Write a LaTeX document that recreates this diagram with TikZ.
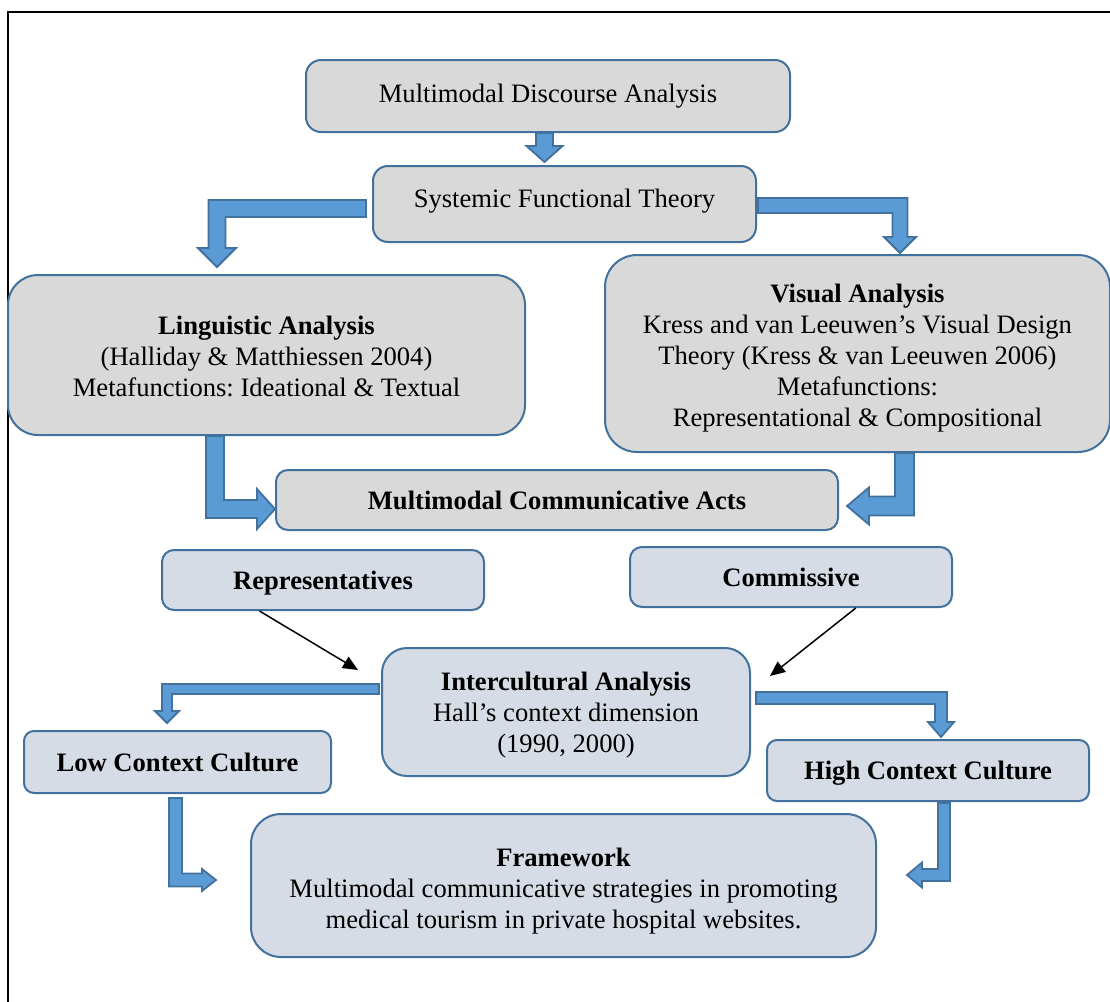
\documentclass[tikz,border=0pt]{standalone}
\usepackage{fontspec}
\setmainfont{Liberation Serif}
\usetikzlibrary{calc,arrows.meta}
\definecolor{bordc}{HTML}{41719C}
\definecolor{grayf}{HTML}{D9D9D9}
\definecolor{bluef}{HTML}{D6DCE5}
\definecolor{arrf}{HTML}{5B9BD5}
\newcommand\dfont{\fontsize{13.3}{15.5}\selectfont\frenchspacing}
\newcommand\topstrut[1]{\rule{0pt}{#1}}
\tikzset{
  gbox/.style={draw=bordc, fill=grayf, line width=1pt, rounded corners=#1, inner sep=0pt, align=center, font=\dfont},
  gbox/.default=7pt,
  bbox/.style={draw=bordc, fill=bluef, line width=1pt, rounded corners=#1, inner sep=0pt, align=center, font=\dfont},
  bbox/.default=6pt,
  blk/.style={draw=bordc, fill=arrf, line width=0.9pt, line join=miter},
  thinarr/.style={-{Triangle[length=7.5pt,width=6.5pt]}, line width=0.75pt, black},
  frameline/.style={line width=1pt, black}
}
% horizontal then vertical block arrow: #1 start, #2 tip, #3 half shaft, #4 half head, #5 head length (px)
\newcommand{\arrHV}[5]{%
  \path[blk] let \p1=(#1), \p2=(#2), \n1={sign(\x1-\x2)}, \n2={sign(\y2-\y1)} in
  (\x1,{\y1-(\n2)*#3*0.5pt})
  -- ({\x2-(\n1)*#3*0.5pt},{\y1-(\n2)*#3*0.5pt})
  -- ({\x2-(\n1)*#3*0.5pt},{\y2-(\n2)*#5*0.5pt})
  -- ({\x2-(\n1)*#4*0.5pt},{\y2-(\n2)*#5*0.5pt})
  -- (\x2,\y2)
  -- ({\x2+(\n1)*#4*0.5pt},{\y2-(\n2)*#5*0.5pt})
  -- ({\x2+(\n1)*#3*0.5pt},{\y2-(\n2)*#5*0.5pt})
  -- ({\x2+(\n1)*#3*0.5pt},{\y1+(\n2)*#3*0.5pt})
  -- (\x1,{\y1+(\n2)*#3*0.5pt}) -- cycle;}
% vertical then horizontal block arrow
\newcommand{\arrVH}[5]{%
  \path[blk] let \p1=(#1), \p2=(#2), \n1={sign(\x2-\x1)}, \n2={sign(\y2-\y1)} in
  ({\x1-(\n1)*#3*0.5pt},\y1)
  -- ({\x1-(\n1)*#3*0.5pt},{\y2+(\n2)*#3*0.5pt})
  -- ({\x2-(\n1)*#5*0.5pt},{\y2+(\n2)*#3*0.5pt})
  -- ({\x2-(\n1)*#5*0.5pt},{\y2+(\n2)*#4*0.5pt})
  -- (\x2,\y2)
  -- ({\x2-(\n1)*#5*0.5pt},{\y2-(\n2)*#4*0.5pt})
  -- ({\x2-(\n1)*#5*0.5pt},{\y2-(\n2)*#3*0.5pt})
  -- ({\x1+(\n1)*#3*0.5pt},{\y2-(\n2)*#3*0.5pt})
  -- ({\x1+(\n1)*#3*0.5pt},\y1) -- cycle;}
% straight vertical block arrow
\newcommand{\arrV}[5]{%
  \path[blk] let \p1=(#1), \p2=(#2), \n2={sign(\y2-\y1)} in
  ({\x1-#3*0.5pt},\y1)
  -- ({\x1-#3*0.5pt},{\y2-(\n2)*#5*0.5pt})
  -- ({\x1-#4*0.5pt},{\y2-(\n2)*#5*0.5pt})
  -- (\x1,\y2)
  -- ({\x1+#4*0.5pt},{\y2-(\n2)*#5*0.5pt})
  -- ({\x1+#3*0.5pt},{\y2-(\n2)*#5*0.5pt})
  -- ({\x1+#3*0.5pt},\y1) -- cycle;}
\begin{document}
\begin{tikzpicture}[x=0.5pt,y=-0.5pt]
\useasboundingbox (0,0) rectangle (1110,1002);
\path[clip] (0,0) rectangle (1110,1002);
\fill[white] (0,0) rectangle (1110,1002);
% outer frame
\draw[frameline] (8,1020) -- (8,12) -- (1130,12);

% nodes
\node[gbox=7.5pt, minimum width=242pt, minimum height=36pt] (mda) at (548,96) {Multimodal Discourse Analysis};
\node[gbox=7.5pt, minimum width=191.5pt, minimum height=38pt, text depth=5.9pt] (sft) at (564.5,204) {Systemic Functional Theory};
\node[gbox=15pt, minimum width=258.5pt, minimum height=80pt] (ling) at (266.5,355)
  {\topstrut{11.1pt}\textbf{Linguistic Analysis}\\(Halliday \& Matthiessen 2004)\\Metafunctions: Ideational \& Textual};
\node[gbox=16pt, minimum width=252.5pt, minimum height=98.5pt] (vis) at (857.5,353.5)
  {\topstrut{13.6pt}\textbf{Visual Analysis}\\Kress and van Leeuwen’s Visual Design\\Theory (Kress \& van Leeuwen 2006)\\Metafunctions:\\Representational \& Compositional};
\node[gbox=6pt, minimum width=281pt, minimum height=30pt, text depth=0pt] (mca) at (557,500) {\textbf{Multimodal Communicative Acts}};
\node[bbox=6pt, minimum width=161pt, minimum height=30pt, text depth=0pt] (rep) at (323,580) {\textbf{Representatives}};
\node[bbox=6pt, minimum width=161pt, minimum height=30pt, text depth=0pt] (com) at (791,577) {\textbf{Commissive}};
\node[bbox=12.5pt, minimum width=184pt, minimum height=64pt] (ia) at (566,712)
  {\topstrut{12.1pt}\textbf{Intercultural Analysis}\\Hall’s context dimension\\(1990, 2000)};
\node[bbox=5pt, minimum width=153.5pt, minimum height=31pt, text depth=0pt] (low) at (177.5,762) {\textbf{Low Context Culture}};
\node[bbox=5pt, minimum width=161pt, minimum height=30.5pt, text depth=0pt] (high) at (928,770.5) {\textbf{High Context Culture}};
\node[bbox=15pt, minimum width=312.5pt, minimum height=71.5pt] (frame) at (563.5,885.5)
  {\topstrut{14.6pt}\textbf{Framework}\\Multimodal communicative strategies in promoting\\medical tourism in private hospital websites.};

% connector end points
\coordinate (s0) at ($(mda.south)+(-3.5,0)$);
\coordinate (t0) at ($(s0 |- sft.north)+(0,-3)$);
\coordinate (s1) at ($(sft.west)+(-6,4.5)$);
\coordinate (t1) at ($(ling.north)+(-49.5,-7)$);
\coordinate (s2) at ($(sft.east)+(1,1.5)$);
\coordinate (t2) at ($(vis.north)+(42.5,-1)$);
\coordinate (s3) at ($(ling.south)+(-51.5,0)$);
\coordinate (t3) at ($(mca.west)+(0,9)$);
\coordinate (s4) at ($(vis.south)+(47,0)$);
\coordinate (t4) at ($(mca.east)+(8,6)$);
\coordinate (s5) at ($(ia.west)+(-2,-23)$);
\coordinate (t5) at ($(low.north)+(-10.5,-7)$);
\coordinate (s6) at ($(low.south)+(-2,4)$);
\coordinate (t6) at ($(frame.west)+(-34,-5.5)$);
\coordinate (s7) at ($(ia.east)+(5,-14)$);
\coordinate (t7) at ($(high.north)+(13,-2)$);
\coordinate (s8) at ($(high.south)+(16,1)$);
\coordinate (t8) at ($(frame.east)+(30,-10.5)$);
\coordinate (rs) at ($(rep.south west)!0.304!(rep.south east)$);
\coordinate (rt) at ($(ia.west)+(-23,-42)$);
\coordinate (cs) at ($(com.south west)!0.7!(com.south east)$);
\coordinate (ct) at ($(ia.east)+(19,-36)$);

% block arrows
\arrV{s0}{t0}{8.5}{18}{16}
\arrHV{s1}{t1}{8.5}{19}{19}
\arrHV{s2}{t2}{7.5}{16}{16}
\arrVH{s3}{t3}{9}{20}{18}
\arrVH{s4}{t4}{9.5}{18.5}{22}
\arrHV{s5}{t5}{5}{12}{12}
\arrVH{s6}{t6}{6.5}{11}{14}
\arrHV{s7}{t7}{6}{13}{15}
\arrVH{s8}{t8}{6}{12.5}{15}

% thin arrows
\draw[thinarr] (rs) -- (rt);
\draw[thinarr] (cs) -- (ct);
\end{tikzpicture}
\end{document}
